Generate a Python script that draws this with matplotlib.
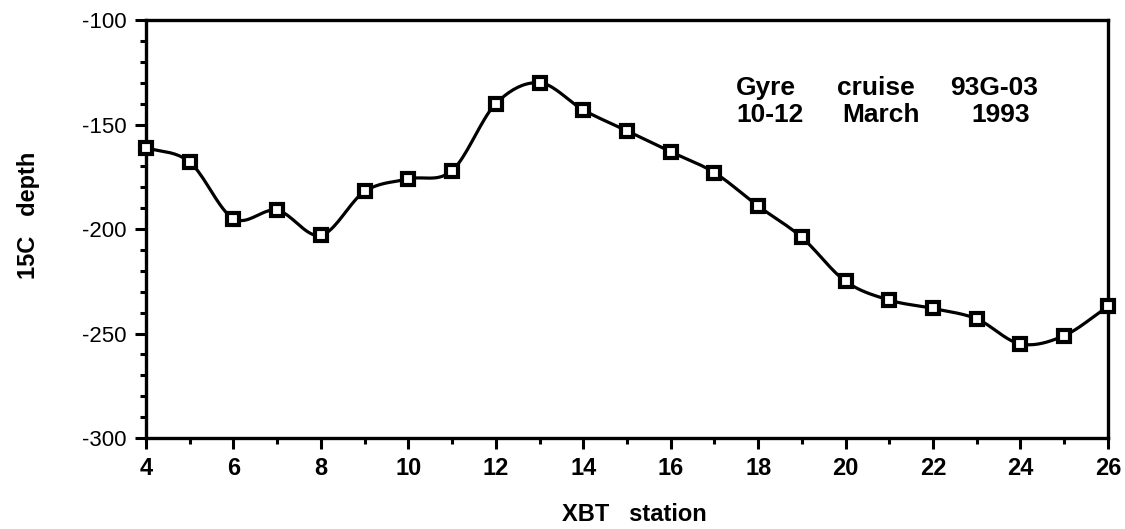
import numpy as np
import matplotlib
matplotlib.use("Agg")
import matplotlib.pyplot as plt
from matplotlib.ticker import MultipleLocator

# XBT stations and 15C isotherm depth
stations = [4, 5, 6, 7, 8, 9, 10, 11, 12, 13, 14, 15, 16, 17, 18, 19, 20, 21, 22, 23, 24, 25, 26]
depth_15c = [-161, -168, -195, -191, -203, -182, -176, -172, -140, -130, -143, -153, -163,
             -173, -189, -204, -225, -234, -238, -243, -255, -251, -237]

x_ticks = [4, 6, 8, 10, 12, 14, 16, 18, 20, 22, 24, 26]
y_ticks = [-300, -250, -200, -150, -100]

line1_words = ["Gyre", "cruise", "93G-03"]
line2_words = ["10-12", "March", "1993"]


def catmull_rom(x, y, n=20):
    # smooth curve through the points, like the old plotting package did
    x = np.asarray(x, float)
    y = np.asarray(y, float)
    px = np.concatenate([[2 * x[0] - x[1]], x, [2 * x[-1] - x[-2]]])
    py = np.concatenate([[2 * y[0] - y[1]], y, [2 * y[-1] - y[-2]]])
    xs, ys = [], []
    t = np.linspace(0, 1, n, endpoint=False)
    for i in range(1, len(px) - 2):
        for p, out in ((px, xs), (py, ys)):
            p0, p1, p2, p3 = p[i - 1], p[i], p[i + 1], p[i + 2]
            out.extend(0.5 * (2 * p1 + (-p0 + p2) * t
                              + (2 * p0 - 5 * p1 + 4 * p2 - p3) * t ** 2
                              + (-p0 + 3 * p1 - 3 * p2 + p3) * t ** 3))
    xs.append(x[-1])
    ys.append(y[-1])
    return np.array(xs), np.array(ys)


plt.rcParams['font.family'] = ['Liberation Sans', 'DejaVu Sans']
plt.rcParams['axes.unicode_minus'] = False

fig = plt.figure(figsize=(11.25, 5.29), dpi=100)
ax = fig.add_axes([0.1298, 0.172, 0.855, 0.790])

sx, sy = catmull_rom(stations, depth_15c)
ax.plot(sx, sy, color='black', lw=2.3, zorder=2, clip_on=False)
ax.plot(stations, depth_15c, ls='none', marker='s', ms=8.5, mfc='white',
        mec='black', mew=3.0, zorder=3, clip_on=False)

ax.set_xlim(4, 26)
ax.set_ylim(-300, -100)
ax.set_xticks(x_ticks)
ax.set_yticks(y_ticks)
ax.xaxis.set_minor_locator(MultipleLocator(1))
ax.yaxis.set_minor_locator(MultipleLocator(10))

ax.tick_params(which='major', direction='out', length=8, width=2.2)
ax.tick_params(which='minor', direction='out', length=4, width=2.2)
ax.tick_params(axis='x', labelsize=17, pad=6)
ax.tick_params(axis='y', labelsize=16, pad=6)
for lab in ax.get_xticklabels():
    lab.set_fontweight('bold')

for s in ax.spines.values():
    s.set_linewidth(2.4)

ax.set_xlabel('XBT   station', fontsize=17, fontweight='bold')
ax.xaxis.set_label_coords(0.508, -0.155)
ax.set_ylabel('15C   depth', fontsize=17, fontweight='bold')
ax.yaxis.set_label_coords(-0.110, 0.533)

# caption block, one word at a time so the spacing matches
cap_kw = dict(fontsize=19, fontweight='bold', va='baseline', ha='center')
for words, xs, y in ((line1_words, (18.18, 20.69, 23.39), -136),
                     (line2_words, (18.27, 20.81, 23.55), -149)):
    for w, xw in zip(words, xs):
        ax.text(xw, y, w, **cap_kw)

fig.savefig('out.png', dpi=100)
